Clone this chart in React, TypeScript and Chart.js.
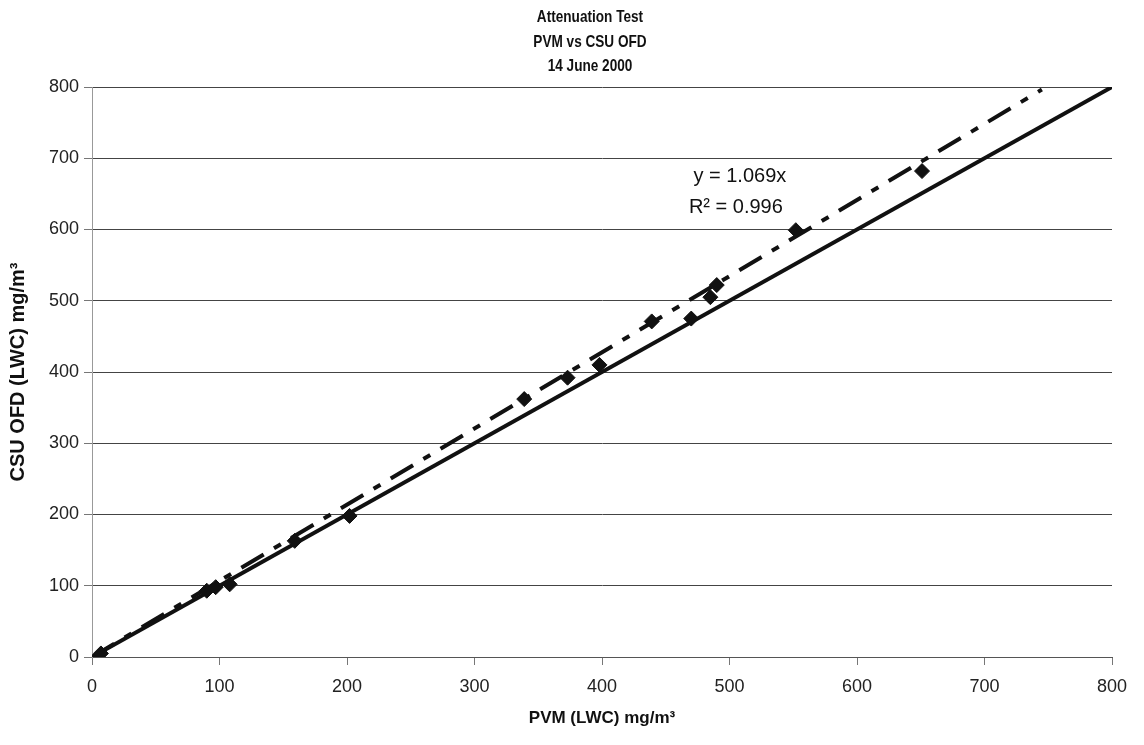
import React, { useEffect, useRef } from "react";
import { Chart, registerables } from "chart.js";

Chart.register(...registerables);

const titleLines = ["Attenuation Test", "PVM vs CSU OFD", "14 June 2000"];
const xTitle = "PVM (LWC) mg/m³";
const yTitle = "CSU OFD (LWC) mg/m³";
const pvmValues = [7, 90, 97, 108, 159, 202, 339, 373, 398, 439, 470, 485, 490, 552, 651];
const ofdValues = [5, 93, 98, 102, 163, 198, 362, 392, 410, 471, 475, 505, 522, 599, 682];
const trendSlope = 1.069;
const trendEndX = 745;
const oneToOneX = [0, 800];
const equationLines = ["y = 1.069x", "R² = 0.996"];

const FAMILY = "'Liberation Sans', Arial, sans-serif";

const textPlugin = {
  id: "texts",
  afterDraw(chart: any) {
    const ctx = chart.ctx;
    ctx.save();
    ctx.fillStyle = "#111";
    ctx.textAlign = "center";
    ctx.textBaseline = "middle";
    const ys = [17, 42, 66];
    ctx.save();
    ctx.font = "bold 17px " + FAMILY;
    ctx.scale(0.8, 1);
    titleLines.forEach((t, i) => ctx.fillText(t, 590 / 0.8, ys[i]));
    ctx.restore();
    ctx.font = "20px " + FAMILY;
    const xs = chart.scales.x;
    const yy = chart.scales.y;
    const ex = xs.getPixelForValue(505);
    ctx.fillText(equationLines[0], ex + 4, yy.getPixelForValue(674));
    ctx.fillText(equationLines[1], ex, yy.getPixelForValue(631));
    ctx.restore();
  },
};

export default function App() {
  const ref = useRef<HTMLCanvasElement>(null);
  useEffect(() => {
    if (!ref.current) return;
    const points = pvmValues.map((x, i) => ({ x, y: ofdValues[i] }));
    const trend = [
      { x: 0, y: 0 },
      { x: trendEndX, y: trendSlope * trendEndX },
    ];
    const oneToOne = oneToOneX.map((v) => ({ x: v, y: v }));
    const font = { family: FAMILY, size: 18 };
    const chart = new Chart(ref.current, {
      type: "scatter",
      data: {
        datasets: [
          {
            data: oneToOne,
            showLine: true,
            borderColor: "#111",
            borderWidth: 4,
            pointRadius: 0,
            order: 2,
          },
          {
            data: trend,
            showLine: true,
            borderColor: "#111",
            borderWidth: 4,
            borderDash: [26, 12, 8, 12],
            pointRadius: 0,
            order: 3,
          },
          {
            data: points,
            pointStyle: "rectRot",
            pointRadius: 7.5,
            backgroundColor: "#111",
            borderColor: "#111",
            borderWidth: 1,
            order: 1,
          },
        ],
      },
      options: {
        animation: false,
        responsive: false,
        maintainAspectRatio: false,
        layout: { padding: { top: 87, right: 32, left: 0, bottom: 0 } },
        plugins: { legend: { display: false }, tooltip: { enabled: false }, title: { display: false } },
        scales: {
          x: {
            type: "linear",
            min: 0,
            max: 800,
            ticks: { stepSize: 100, color: "#222", font, padding: 11 },
            grid: { color: "transparent", tickColor: "#777", drawTicks: true, tickLength: 8 },
            border: { display: true, color: "#555", width: 1 },
            title: {
              display: true,
              text: xTitle,
              color: "#111",
              font: { family: FAMILY, size: 17, weight: "bold" },
              padding: { top: 0, bottom: 16 },
            },
            afterFit: (s: any) => {
              s.height = 88;
            },
          },
          y: {
            type: "linear",
            min: 0,
            max: 800,
            ticks: { stepSize: 100, color: "#222", font, padding: 5 },
            grid: { color: "#444", lineWidth: 1, tickColor: "#777", drawTicks: true, tickLength: 8 },
            border: { display: true, color: "#999", width: 1 },
            title: {
              display: true,
              text: yTitle,
              color: "#111",
              font: { family: FAMILY, size: 20, weight: "bold" },
              padding: { top: 6, bottom: 0 },
            },
            afterFit: (s: any) => {
              s.width = 92;
            },
          },
        },
      },
      plugins: [textPlugin],
    } as any);
    return () => chart.destroy();
  }, []);
  return (
    <div style={{ position: "fixed", left: 0, top: 0, width: 1144, height: 745, background: "#fff" }}>
      <canvas ref={ref} width={1144} height={745} style={{ display: "block" }} />
    </div>
  );
}
